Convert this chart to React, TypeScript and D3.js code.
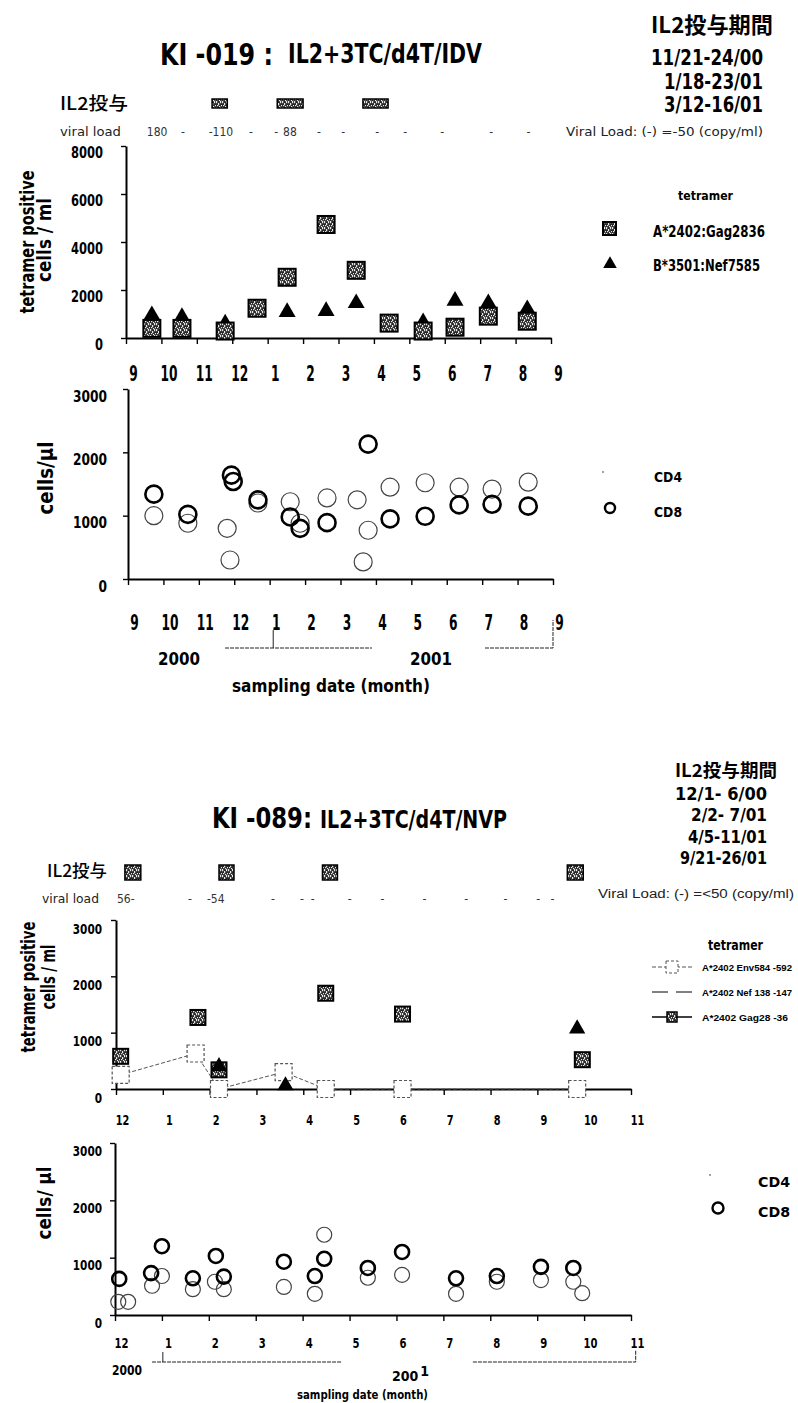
import React, { useEffect, useRef } from "react";
import * as d3 from "d3";

const FONT =
  "'Liberation Sans Narrow','Arial Narrow','DejaVu Sans Condensed','Liberation Sans',Arial,sans-serif";
const NARROWISH = "'Liberation Sans',Arial,sans-serif";
const CJK = "'Noto Sans CJK JP','Noto Sans CJK SC',sans-serif";

// ---------- KI-019 : months counted from Sep 2000 (0) to Sep 2001 (12) ----------
const ki019MonthLabels = ["9", "10", "11", "12", "1", "2", "3", "4", "5", "6", "7", "8", "9"];
const ki019Il2Start = [2.43, 4.27, 6.69];
const ki019Il2End = [2.86, 5.0, 7.4];
const ki019Il2Periods = ["11/21-24/00", "1/18-23/01", "3/12-16/01"];
const ki019ViralAt = [0.88, 1.61, 2.68, 3.53, 4.24, 4.63, 5.45, 6.13, 7.09, 7.88, 8.93, 10.31, 11.36];
const ki019ViralText = ["180", "-", "-110", "-", "-", "88", "-", "-", "-", "-", "-", "-", "-"];
const ki019TetTicks = [0, 2000, 4000, 6000, 8000];
const ki019GagAt = [0.73, 1.58, 2.8, 3.7, 4.55, 5.65, 6.5, 7.43, 8.39, 9.29, 10.23, 11.33];
const ki019GagVal = [400, 400, 290, 1240, 2530, 4730, 2820, 620, 290, 450, 910, 700];
const ki019NefAt = [0.73, 1.58, 2.8, 4.55, 5.65, 6.5, 8.39, 9.29, 10.23, 11.33];
const ki019NefVal = [950, 870, 600, 1080, 1120, 1450, 650, 1550, 1450, 1200];
const ki019Cd4At = [0.73, 1.69, 2.8, 2.88, 3.67, 4.58, 4.86, 5.62, 6.47, 6.64, 6.78, 7.4, 8.39, 9.35, 10.28, 11.3];
const ki019Cd4Val = [1000, 880, 800, 300, 1200, 1220, 880, 1280, 1250, 270, 770, 1450, 1520, 1450, 1420, 1530];
const ki019Cd8At = [0.73, 1.69, 2.92, 2.97, 3.67, 4.58, 4.86, 5.62, 6.78, 7.4, 8.39, 9.35, 10.28, 11.3];
const ki019Cd8Val = [1340, 1020, 1640, 1540, 1250, 980, 800, 890, 2130, 950, 990, 1170, 1180, 1150];

// ---------- KI-089 : months counted from Dec 2000 (0) to Nov 2001 (11) ----------
const ki089MonthLabels = ["12", "1", "2", "3", "4", "5", "6", "7", "8", "9", "10", "11"];
const ki089Il2Start = [0.19, 2.2, 4.41, 9.64];
const ki089Il2End = [0.53, 2.52, 4.73, 9.98];
const ki089Il2Periods = ["12/1- 6/00", "2/2- 7/01", "4/5-11/01", "9/21-26/01"];
const ki089ViralAt = [0.21, 1.58, 2.13, 3.35, 3.97, 4.2, 4.99, 5.69, 6.59, 7.48, 8.32, 9.02, 9.32];
const ki089ViralText = ["56-", "-", "-54", "-", "-", "-", "-", "-", "-", "-", "-", "-", "-"];
const cellTicks = [0, 1000, 2000, 3000];
const ki089EnvAt = [0.1, 1.7, 2.2, 3.58, 4.48, 6.12, 9.85];
const ki089EnvVal = [250, 630, 0, 300, 0, 0, 0];
const ki089NefAt = [2.2, 3.62, 9.85];
const ki089NefVal = [400, 60, 1070];
const ki089GagAt = [0.1, 1.75, 2.2, 4.48, 6.12, 9.96];
const ki089GagVal = [580, 1270, 340, 1700, 1330, 520];
const ki089Cd4At = [0.07, 0.28, 0.79, 1.0, 1.66, 2.13, 2.32, 3.6, 4.26, 4.46, 5.39, 6.12, 7.27, 8.14, 9.08, 9.77, 9.96];
const ki089Cd4Val = [230, 230, 510, 680, 450, 580, 450, 490, 370, 1400, 650, 700, 370, 580, 610, 580, 380];
const ki089Cd8At = [0.09, 0.77, 1.0, 1.66, 2.15, 2.32, 3.6, 4.26, 4.46, 5.39, 6.12, 7.27, 8.14, 9.08, 9.77];
const ki089Cd8Val = [630, 730, 1200, 640, 1030, 670, 930, 680, 980, 820, 1100, 640, 680, 840, 820];

type Sel = d3.Selection<SVGGElement, unknown, null, undefined>;
type Lin = d3.ScaleLinear<number, number>;
type TOpts = { weight?: string | number; anchor?: string; len?: number; family?: string; fill?: string };

function txt(g: Sel, x: number, y: number, s: string, size: number, o: TOpts = {}) {
  const t = g
    .append("text")
    .attr("x", x)
    .attr("y", y)
    .attr("font-family", o.family ?? FONT)
    .attr("font-size", size)
    .attr("font-weight", o.weight ?? "bold")
    .attr("text-anchor", o.anchor ?? "start")
    .attr("fill", o.fill ?? "#000")
    .text(s);
  if (o.len) t.attr("textLength", o.len).attr("lengthAdjust", "spacingAndGlyphs");
  return t;
}

function vtxt(g: Sel, baseX: number, cy: number, s: string, size: number, len: number) {
  g.append("text")
    .attr("transform", `translate(${baseX},${cy}) rotate(-90)`)
    .attr("text-anchor", "middle")
    .attr("font-family", FONT)
    .attr("font-weight", "bold")
    .attr("font-size", size)
    .attr("textLength", len)
    .attr("lengthAdjust", "spacingAndGlyphs")
    .text(s);
}

function xAxis(g: Sel, x: Lin, y0: number, labels: string[], labelY: number, dx: number, size: number, perChar: number) {
  const ax = g
    .append("g")
    .attr("transform", `translate(0,${y0})`)
    .call(
      d3
        .axisBottom(x)
        .tickValues(d3.range(labels.length))
        .tickFormat((_, i) => labels[i])
        .tickSize(6)
        .tickSizeOuter(0)
    );
  ax.select(".domain").attr("stroke-width", 2);
  ax.selectAll(".tick line").attr("stroke-width", 1.4);
  ax.selectAll<SVGTextElement, number>(".tick text")
    .attr("y", labelY)
    .attr("dy", 0)
    .attr("dx", dx)
    .attr("font-family", FONT)
    .attr("font-weight", "bold")
    .attr("font-size", size)
    .attr("fill", "#000")
    .attr("textLength", (d) => labels[d].length * perChar)
    .attr("lengthAdjust", "spacingAndGlyphs");
}

function yAxis(g: Sel, y: Lin, x0: number, ticks: number[], pad: number, dy: number, size: number, perChar: number) {
  const ax = g
    .append("g")
    .attr("transform", `translate(${x0},0)`)
    .call(d3.axisLeft(y).tickValues(ticks).tickFormat(d3.format("d")).tickSize(5).tickSizeOuter(0).tickPadding(pad));
  ax.select(".domain").attr("stroke-width", 2);
  ax.selectAll(".tick line").attr("stroke-width", 1.4);
  ax.selectAll<SVGTextElement, number>(".tick text")
    .attr("dy", 0)
    .attr("y", dy)
    .attr("font-family", FONT)
    .attr("font-weight", "bold")
    .attr("font-size", size)
    .attr("fill", "#000")
    .attr("textLength", (d) => String(d).length * perChar)
    .attr("lengthAdjust", "spacingAndGlyphs");
}

function squares(g: Sel, at: number[], val: number[], x: Lin, y: Lin, s: number) {
  g.append("g")
    .selectAll("rect")
    .data(at)
    .join("rect")
    .attr("x", (d) => x(d) - s / 2)
    .attr("y", (_, i) => y(val[i]) - s / 2)
    .attr("width", s)
    .attr("height", s)
    .attr("fill", "url(#speck)")
    .attr("stroke", "#000")
    .attr("stroke-width", 2);
}

function triangles(g: Sel, at: number[], val: number[], x: Lin, y: Lin, area: number) {
  const sym = d3.symbol().type(d3.symbolTriangle).size(area);
  g.append("g")
    .selectAll("path")
    .data(at)
    .join("path")
    .attr("transform", (d, i) => `translate(${x(d)},${y(val[i])})`)
    .attr("d", sym() as string)
    .attr("fill", "#000");
}

function circles(g: Sel, at: number[], val: number[], x: Lin, y: Lin, r: number, sw: number, color: string) {
  g.append("g")
    .selectAll("circle")
    .data(at)
    .join("circle")
    .attr("cx", (d) => x(d))
    .attr("cy", (_, i) => y(val[i]))
    .attr("r", r)
    .attr("fill", "none")
    .attr("stroke", color)
    .attr("stroke-width", sw);
}

function il2Row(g: Sel, x: Lin, starts: number[], ends: number[], yTop: number, h: number) {
  g.append("g")
    .selectAll("rect")
    .data(starts)
    .join("rect")
    .attr("x", (d) => x(d))
    .attr("y", yTop)
    .attr("width", (d, i) => x(ends[i]) - x(d))
    .attr("height", h)
    .attr("fill", "url(#speck)")
    .attr("stroke", "#000")
    .attr("stroke-width", 1.5);
}

function viralRow(g: Sel, x: Lin, at: number[], labels: string[], baseY: number) {
  g.append("g")
    .selectAll("text")
    .data(at)
    .join("text")
    .attr("x", (d) => x(d))
    .attr("y", baseY)
    .attr("text-anchor", "middle")
    .attr("font-family", FONT)
    .attr("font-size", 12)
    .attr("fill", "#333")
    .text((_, i) => labels[i]);
}

const App: React.FC = () => {
  const svgRef = useRef<SVGSVGElement>(null);

  useEffect(() => {
    if (!svgRef.current) return;
    const svg = d3.select(svgRef.current);
    svg.selectAll("*").remove();

    const defs = svg.append("defs");
    const pat = defs
      .append("pattern")
      .attr("id", "speck")
      .attr("width", 6)
      .attr("height", 6)
      .attr("patternUnits", "userSpaceOnUse");
    pat.append("rect").attr("width", 6).attr("height", 6).attr("fill", "#2a2a2a");
    [[0, 0], [2, 1], [4, 0], [1, 3], [3, 4], [5, 3], [0, 5], [4, 5], [2, 2]].forEach(([a, b]) =>
      pat.append("rect").attr("x", a).attr("y", b).attr("width", 1.2).attr("height", 1.2).attr("fill", "#e8e8e8")
    );

    const root = svg.append("g") as unknown as Sel;

    // ================= KI-019 =================
    txt(root, 160, 65, "KI -019 :", 31, { len: 113 });
    txt(root, 288, 63, "IL2+3TC/d4T/IDV", 26, { len: 194 });
    txt(root, 651, 33, "IL2投与期間", 22, { family: CJK, len: 122 });
    const ki019PeriodLen = [112, 99, 99];
    ki019Il2Periods.forEach((p, i) =>
      txt(root, 763, 65 + i * 23.5, p, 22, { anchor: "end", len: ki019PeriodLen[i] })
    );

    const x1 = d3.scaleLinear().domain([0, 12]).range([126, 551]);
    const y1 = d3.scaleLinear().domain([0, 8000]).range([338, 146]);

    txt(root, 60, 110, "IL2投与", 18, { family: CJK, len: 68, weight: 500 });
    il2Row(root, x1, ki019Il2Start, ki019Il2End, 99, 9);
    txt(root, 60, 136, "viral load", 12, { weight: "normal", len: 61, fill: "#222" });
    viralRow(root, x1, ki019ViralAt, ki019ViralText, 136);
    txt(root, 566, 136, "Viral Load: (-) =-50 (copy/ml)", 12, { weight: "normal", len: 197, fill: "#222" });

    yAxis(root, y1, 126, ki019TetTicks, 18, 11, 16, 8);
    xAxis(root, x1, 338, ki019MonthLabels, 43, 7, 22, 8.5);
    vtxt(root, 34, 242, "tetramer positive", 20, 143);
    vtxt(root, 51, 240, "cells / ml", 20, 84);

    triangles(root, ki019NefAt, ki019NefVal, x1, y1, 125);
    squares(root, ki019GagAt, ki019GagVal, x1, y1, 17);

    // legend
    txt(root, 678, 200, "tetramer", 13, { len: 55 });
    root.append("rect").attr("x", 603).attr("y", 222).attr("width", 13).attr("height", 13)
      .attr("fill", "url(#speck)").attr("stroke", "#000").attr("stroke-width", 2);
    txt(root, 653, 237, "A*2402:Gag2836", 15, { len: 112 });
    root.append("path").attr("transform", "translate(610,264)")
      .attr("d", d3.symbol().type(d3.symbolTriangle).size(80)() as string).attr("fill", "#000");
    txt(root, 653, 271, "B*3501:Nef7585", 15, { len: 107 });

    // ---- CD4 / CD8 KI-019
    const x2 = d3.scaleLinear().domain([0, 12]).range([128, 553]);
    const y2 = d3.scaleLinear().domain([0, 3000]).range([579, 389]);
    yAxis(root, y2, 128, cellTicks, 16, 12, 16, 8.5);
    xAxis(root, x2, 579, ki019MonthLabels, 51, 6, 22, 8.5);
    vtxt(root, 53, 478, "cells/μl", 21, 73);
    circles(root, ki019Cd4At, ki019Cd4Val, x2, y2, 9, 1.2, "#444");
    circles(root, ki019Cd8At, ki019Cd8Val, x2, y2, 8.5, 2.6, "#000");

    root.append("circle").attr("cx", 603).attr("cy", 472).attr("r", 0.9).attr("fill", "#777");
    txt(root, 654, 482, "CD4", 14, { len: 28 });
    root.append("circle").attr("cx", 610).attr("cy", 508).attr("r", 5).attr("fill", "none")
      .attr("stroke", "#000").attr("stroke-width", 2.4);
    txt(root, 654, 517, "CD8", 14, { len: 28 });

    // year brackets
    const br = root.append("g").attr("stroke", "#222").attr("stroke-width", 1).attr("fill", "none");
    br.append("line").attr("x1", x2(2.74)).attr("x2", x2(6.89)).attr("y1", 648).attr("y2", 648).attr("stroke-dasharray", "4,1");
    br.append("line").attr("x1", x2(4.1)).attr("x2", x2(4.1)).attr("y1", 630).attr("y2", 648);
    br.append("path").attr("d", `M${x2(10.08)},648H${x2(12)}V620`).attr("stroke-dasharray", "4,1");
    txt(root, 158, 665, "2000", 18, { len: 42 });
    txt(root, 410, 665, "2001", 18, { len: 42 });
    txt(root, 232, 692, "sampling date (month)", 18, { len: 198 });

    // ================= KI-089 =================
    txt(root, 212, 828, "KI -089:", 29, { len: 100 });
    txt(root, 320, 828, "IL2+3TC/d4T/NVP", 25, { len: 187 });
    txt(root, 675, 777, "IL2投与期間", 18, { family: CJK, len: 102 });
    const ki089PeriodLen = [92, 76, 79, 87];
    ki089Il2Periods.forEach((p, i) =>
      txt(root, 767, 800 + i * 21.4, p, 18, { anchor: "end", len: ki089PeriodLen[i] })
    );

    const x3 = d3.scaleLinear().domain([0, 11]).range([116, 631]);
    const y3 = d3.scaleLinear().domain([0, 3000]).range([1089, 920]);

    txt(root, 47, 877, "IL2投与", 17, { family: CJK, len: 60, weight: 500 });
    il2Row(root, x3, ki089Il2Start, ki089Il2End, 865, 15);
    txt(root, 42, 903, "viral load", 12, { weight: "normal", len: 57, fill: "#222" });
    viralRow(root, x3, ki089ViralAt, ki089ViralText, 903);
    txt(root, 598, 898, "Viral Load: (-) =<50 (copy/ml)", 12, { weight: "normal", len: 196, fill: "#222", family: NARROWISH });

    yAxis(root, y3, 116, cellTicks, 9, 13, 14, 7.3);
    xAxis(root, x3, 1089, ki089MonthLabels, 36, 6, 14, 6.8);
    vtxt(root, 35, 987, "tetramer positive", 19, 131);
    vtxt(root, 55, 977, "cells / ml", 19, 65);

    const envLine = d3
      .line<number>()
      .x((d) => x3(d))
      .y((_, i) => y3(ki089EnvVal[i]));
    root.append("path").attr("d", envLine(ki089EnvAt) as string).attr("fill", "none")
      .attr("stroke", "#555").attr("stroke-width", 1).attr("stroke-dasharray", "4,2");
    root.append("g").selectAll("rect").data(ki089EnvAt).join("rect")
      .attr("x", (d) => x3(d) - 8.5).attr("y", (_, i) => y3(ki089EnvVal[i]) - 8.5)
      .attr("width", 17).attr("height", 17).attr("fill", "#fff")
      .attr("stroke", "#555").attr("stroke-width", 1.2).attr("stroke-dasharray", "3,2");
    squares(root, ki089GagAt, ki089GagVal, x3, y3, 15);
    triangles(root, ki089NefAt, ki089NefVal, x3, y3, 115);

    // legend
    txt(root, 708, 950, "tetramer", 14, { len: 55 });
    const lg = root.append("g");
    lg.append("line").attr("x1", 652).attr("x2", 692).attr("y1", 967).attr("y2", 967).attr("stroke", "#555").attr("stroke-dasharray", "4,2");
    lg.append("rect").attr("x", 666).attr("y", 961).attr("width", 12).attr("height", 12).attr("fill", "#fff")
      .attr("stroke", "#555").attr("stroke-dasharray", "3,2");
    txt(root, 702, 971, "A*2402 Env584 -592", 9.5, { len: 90, family: NARROWISH });
    lg.append("line").attr("x1", 652).attr("x2", 692).attr("y1", 992).attr("y2", 992).attr("stroke", "#000").attr("stroke-dasharray", "16,8");
    txt(root, 702, 996, "A*2402 Nef 138 -147", 9.5, { len: 90, family: NARROWISH });
    lg.append("line").attr("x1", 652).attr("x2", 692).attr("y1", 1017).attr("y2", 1017).attr("stroke", "#000").attr("stroke-width", 1.5);
    lg.append("rect").attr("x", 667).attr("y", 1012).attr("width", 10).attr("height", 10).attr("fill", "url(#speck)")
      .attr("stroke", "#000").attr("stroke-width", 1.5);
    txt(root, 702, 1021, "A*2402 Gag28 -36", 9.5, { len: 86, family: NARROWISH });

    // ---- CD4 / CD8 KI-089
    const x4 = d3.scaleLinear().domain([0, 11]).range([115, 631]);
    const y4 = d3.scaleLinear().domain([0, 3000]).range([1315, 1143]);
    yAxis(root, y4, 115, cellTicks, 8, 12, 14, 7.3);
    xAxis(root, x4, 1315, ki089MonthLabels, 33, 6, 14, 7);
    vtxt(root, 51, 1203, "cells/ μl", 19, 73);
    circles(root, ki089Cd4At, ki089Cd4Val, x4, y4, 7.5, 1.2, "#444");
    circles(root, ki089Cd8At, ki089Cd8Val, x4, y4, 7, 2.6, "#000");

    root.append("circle").attr("cx", 710).attr("cy", 1175).attr("r", 0.9).attr("fill", "#777");
    txt(root, 758, 1187, "CD4", 14, { len: 32 });
    root.append("circle").attr("cx", 718).attr("cy", 1208).attr("r", 5.5).attr("fill", "none")
      .attr("stroke", "#000").attr("stroke-width", 2.4);
    txt(root, 758, 1217, "CD8", 14, { len: 32 });

    const br2 = root.append("g").attr("stroke", "#222").attr("stroke-width", 1).attr("fill", "none");
    br2.append("line").attr("x1", x4(0.79)).attr("x2", x4(4.84)).attr("y1", 1362).attr("y2", 1362).attr("stroke-dasharray", "4,1");
    br2.append("line").attr("x1", x4(1.02)).attr("x2", x4(1.02)).attr("y1", 1352).attr("y2", 1362);
    br2.append("path").attr("d", `M${x4(7.63)},1362H${x4(11.1)}V1350`).attr("stroke-dasharray", "4,1");
    txt(root, 112, 1375, "2000", 14, { len: 30 });
    const y2001 = txt(root, 392, 1381, "200", 14);
    y2001.append("tspan").attr("dx", 2).attr("dy", -5).text("1");
    txt(root, 297, 1399, "sampling date (month)", 13, { len: 131 });
  }, []);

  return (
    <svg
      ref={svgRef}
      width={798}
      height={1403}
      style={{ position: "absolute", left: 0, top: 0, display: "block", background: "#fff" }}
    />
  );
};

export default App;
